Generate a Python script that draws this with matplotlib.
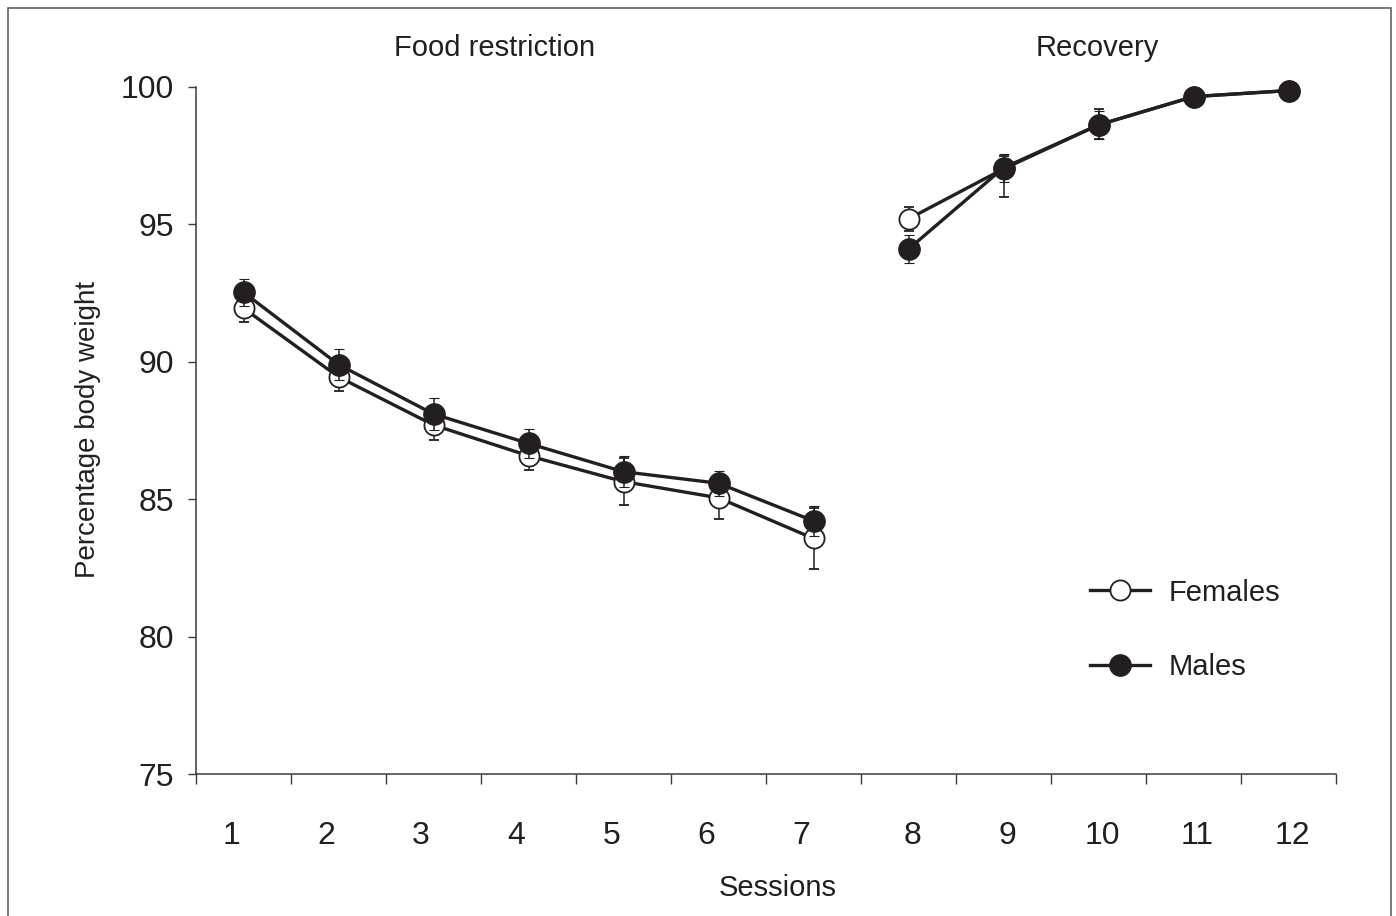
#!/usr/bin/env python3

# Body weight across food restriction and recovery sessions, by sex

import matplotlib.pyplot as plt
import matplotlib.patches as patches
from matplotlib.lines import Line2D
from matplotlib import font_manager
import numpy as np
import matplotlib as mpl

installed = {f.name for f in font_manager.fontManager.ttflist}
narrow = "Liberation Sans Narrow" if "Liberation Sans Narrow" in installed else "Liberation Sans"
mpl.rcParams["font.family"] = [narrow, "DejaVu Sans"]
mpl.rcParams["figure.dpi"] = 100

INK = "#231f20"
AXIS = "#3c3c3c"

sessions = np.arange(1, 13)
session_labels = [str(s) for s in sessions]

females = [91.95, 89.45, 87.7, 86.58, 85.64, 85.05, 83.57, 95.2, 97.02, 98.62, 99.65, 99.87]
females_err_lo = [0.51, 0.53, 0.54, 0.52, 0.85, 0.78, 1.1, 0.45, 1.03, 0.5, 0.1, 0.05]
females_err_hi = [0.51, 0.53, 0.54, 0.52, 0.85, 0.78, 1.1, 0.45, 0.48, 0.57, 0.1, 0.05]

males = [92.53, 89.9, 88.1, 87.03, 86.0, 85.58, 84.21, 94.1, 97.06, 98.62, 99.65, 99.87]
males_err = [0.5, 0.57, 0.58, 0.54, 0.57, 0.45, 0.54, 0.51, 0.52, 0.5, 0.1, 0.05]

phases = ["Food restriction", "Recovery"]

open_style = dict(color=INK, lw=2.4, marker="o", ms=14.5, mfc="white", mec=INK, mew=1.3)
fill_style = dict(color=INK, lw=2.4, marker="o", ms=15.5, mfc=INK, mec=INK, mew=0.8)
err_style = dict(ecolor=INK, elinewidth=1.1, capsize=3.3, capthick=1.1, clip_on=False)

fig = plt.figure(figsize=(13.96, 9.16))
ax = fig.add_axes([196 / 1396, 1 - 774 / 916, 1140 / 1396, 687 / 916])

# restriction phase (1-7) and recovery phase (8-12) are drawn as separate segments
for seg in (slice(0, 7), slice(7, 12)):
    ax.errorbar(sessions[seg], females[seg],
                yerr=[females_err_lo[seg], females_err_hi[seg]],
                zorder=3, **open_style, **err_style)
for seg in (slice(0, 7), slice(7, 12)):
    ax.errorbar(sessions[seg], males[seg], yerr=males_err[seg],
                zorder=4, **fill_style, **err_style)

ax.set_xlim(0.5, 12.5)
ax.set_ylim(75, 100)

ax.spines["top"].set_visible(False)
ax.spines["right"].set_visible(False)
for side in ("left", "bottom"):
    ax.spines[side].set_color(AXIS)
    ax.spines[side].set_linewidth(1.1)

# major ticks sit between sessions, labels go on minor ticks
ax.set_xticks(np.arange(0.5, 13, 1))
ax.tick_params(axis="x", which="major", length=7, width=1.0, color=AXIS, labelbottom=False)
label_x = [s - 0.13 if s <= 7 else s + 0.04 for s in sessions]
ax.set_xticks(label_x, minor=True)
ax.set_xticklabels(session_labels, minor=True)
ax.tick_params(axis="x", which="minor", length=0, pad=34, labelsize=23, labelcolor=INK)

ax.set_yticks([75, 80, 85, 90, 95, 100])
ax.tick_params(axis="y", length=6, width=1.0, color=AXIS, pad=10, labelsize=23, labelcolor=INK)

fig.text(495 / 1396, 1 - 48 / 916, phases[0], ha="center", va="center", fontsize=21, color=INK)
fig.text(1097 / 1396, 1 - 48 / 916, phases[1], ha="center", va="center", fontsize=21, color=INK)
fig.text(778 / 1396, 1 - 888 / 916, "Sessions", ha="center", va="center", fontsize=21, color=INK)
fig.text(88 / 1396, 1 - 430 / 916, "Percentage body weight", rotation=90,
         ha="center", va="center", fontsize=20, color=INK)

handles = [Line2D([], [], **open_style), Line2D([], [], **fill_style)]
ax.legend(handles, ["Females", "Males"], loc="center left",
          bbox_to_anchor=(868 / 1140, 1 - (630 - 87) / 687), frameon=False,
          fontsize=21, handlelength=2.05, handletextpad=0.65, labelspacing=1.6,
          labelcolor=INK)

# outer frame around the figure
frame = patches.Rectangle((8 / 1396, -0.05), 1383 / 1396, 1.05 - 8 / 916,
                          transform=fig.transFigure, fill=False,
                          edgecolor="#555555", lw=1.1, clip_on=False)
fig.patches.append(frame)

plt.savefig("out.png", dpi=100)
plt.close()
